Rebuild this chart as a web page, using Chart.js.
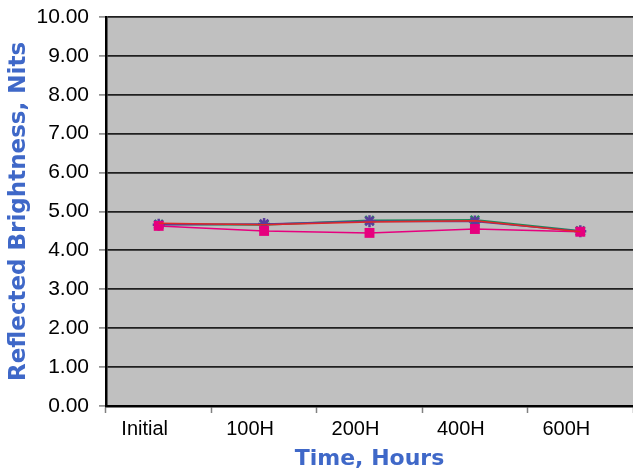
<!DOCTYPE html>
<html>
<head>
<meta charset="utf-8">
<script src="https://cdn.jsdelivr.net/npm/chart.js@4/dist/chart.umd.min.js"></script>
<style>
    html, body { margin: 0; padding: 0; background: #ffffff; overflow: hidden; }
    #wrap { width: 633px; height: 474px; position: relative; }
    #brightnessChart { display: block; }
</style>
</head>
<body>
<div id="wrap"><canvas id="brightnessChart"></canvas></div>
<script>
// values
const timeLabels = ['Initial', '100H', '200H', '400H', '600H'];
const redValues = [4.70, 4.66, 4.73, 4.76, 4.48];
const pinkValues = [4.63, 4.50, 4.45, 4.55, 4.48];
const blueValues = [4.66, 4.68, 4.75, 4.74, 4.49];
const greenValues = [4.67, 4.66, 4.77, 4.78, 4.50];
const yMin = 0;
const yMax = 10;
const yStep = 1;

const plotBackground = {
    id: 'plotBackground',
    beforeDraw(chart) {
        const { ctx, chartArea } = chart;
        ctx.save();
        ctx.fillStyle = '#c0c0c0';
        ctx.fillRect(chartArea.left, chartArea.top, chartArea.right - chartArea.left, chartArea.bottom - chartArea.top);
        ctx.restore();
    }
};

const titleBlue = '#3f68c8';

const ctx = document.getElementById('brightnessChart').getContext('2d');
window.brightnessChart = new Chart(ctx, {
    type: 'line',
    data: {
        labels: timeLabels,
        datasets: [
            {
                label: 'Red',
                data: redValues,
                borderColor: '#e02828',
                backgroundColor: '#e02828',
                borderWidth: 1.5,
                pointRadius: 0,
                tension: 0,
                fill: false
            },
            {
                label: 'Pink',
                data: pinkValues,
                borderColor: '#e6007e',
                backgroundColor: '#e6007e',
                borderWidth: 1.5,
                pointStyle: 'rect',
                pointRadius: 7,
                pointBorderWidth: 0,
                tension: 0,
                fill: false
            },
            {
                label: 'Blue',
                data: blueValues,
                borderColor: '#5a3c9c',
                backgroundColor: '#5a3c9c',
                borderWidth: 1.5,
                pointStyle: 'star',
                pointRadius: 6,
                pointBorderWidth: 2.5,
                tension: 0,
                fill: false
            },
            {
                label: 'Green',
                data: greenValues,
                borderColor: '#1e8a5a',
                backgroundColor: '#1e8a5a',
                borderWidth: 2,
                pointStyle: 'crossRot',
                pointRadius: 6,
                pointBorderWidth: 2.5,
                tension: 0,
                fill: false
            }
        ]
    },
    options: {
        responsive: true,
        maintainAspectRatio: false,
        animation: false,
        devicePixelRatio: 1,
        layout: {
            autoPadding: false,
            padding: { top: 17, right: 0, bottom: 0, left: 0 }
        },
        plugins: {
            legend: { display: false },
            tooltip: { enabled: false }
        },
        scales: {
            x: {
                type: 'category',
                offset: true,
                afterFit(scale) {
                    scale.height = 68;
                    scale.paddingLeft = 0;
                    scale.paddingRight = 0;
                },
                grid: {
                    offset: true,
                    drawOnChartArea: false,
                    tickLength: 7,
                    tickColor: '#808080',
                    tickWidth: 1.5
                },
                border: {
                    display: true,
                    color: '#000000',
                    width: 2.5
                },
                ticks: {
                    color: '#000000',
                    font: { family: '"Liberation Sans", Arial, sans-serif', size: 20 },
                    padding: 4,
                    labelOffset: -14,
                    maxRotation: 0,
                    autoSkip: false
                },
                title: {
                    display: true,
                    text: 'Time, Hours',
                    color: titleBlue,
                    font: { family: '"DejaVu Sans", sans-serif', size: 22, weight: 'bold' },
                    padding: { top: 0, bottom: 2 }
                }
            },
            y: {
                min: yMin,
                max: yMax,
                afterFit(scale) {
                    scale.width = 106;
                    scale.paddingTop = 0;
                    scale.paddingBottom = 0;
                },
                grid: {
                    color: '#202020',
                    lineWidth: 1.8,
                    tickLength: 7,
                    tickColor: '#808080',
                    tickWidth: 1.5
                },
                border: {
                    display: true,
                    color: '#000000',
                    width: 2.5
                },
                ticks: {
                    stepSize: yStep,
                    color: '#000000',
                    font: { family: '"Liberation Sans", Arial, sans-serif', size: 21 },
                    padding: 10,
                    callback: value => Number(value).toFixed(2)
                },
                title: {
                    display: true,
                    text: 'Reflected Brightness, Nits',
                    color: titleBlue,
                    font: { family: '"DejaVu Sans", sans-serif', size: 23, weight: 'bold' },
                    padding: { top: 5, bottom: 0 }
                }
            }
        }
    },
    plugins: [plotBackground]
});
</script>
</body>
</html>
